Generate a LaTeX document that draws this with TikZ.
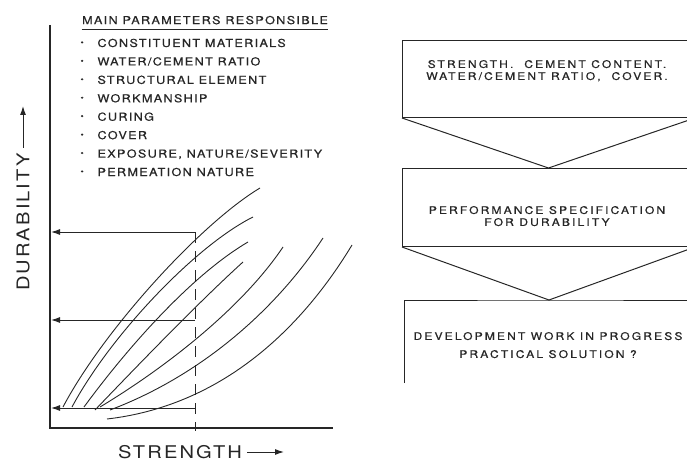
\documentclass[tikz,border=0pt]{standalone}
\usepackage{fontspec}
\newfontfamily\lettering{TeX Gyre Heros}[FakeStretch=1.15,LetterSpace=12]
\newfontfamily\boldlettering{TeX Gyre Heros}[FakeStretch=1.15,LetterSpace=12,FakeBold=0.6]
\newfontfamily\boxlettering{TeX Gyre Heros}[FakeStretch=1.15,LetterSpace=20,FakeBold=0.6]
\usepackage{tikz}
\usetikzlibrary{arrows.meta}

\begin{document}
\begin{tikzpicture}[x=1pt,y=1pt,line width=1pt,color=black!85,
  lbl/.style={inner sep=0pt,text depth=0pt},
  small/.style={lbl,font=\boldlettering\fontsize{11}{13}\selectfont},
  boxtext/.style={lbl,align=center,font=\boxlettering\fontsize{10.5}{12}\selectfont},
  axislabel/.style={lbl,font=\lettering\fontsize{17.5}{20}\selectfont},
  tip/.style={-{Latex[length=9pt,width=6pt]}},
  curve/.style={line width=0.9pt}]
\clip (0,0) rectangle (687,461);

% strength / durability chart
\draw[line width=1.2pt] (50,436) -- (50,33) -- (333,33);
\draw[dash pattern=on 11pt off 8pt] (195,229) -- (195,30);
\foreach \n/\y in {1/229,2/141,3/53} {
  \coordinate (s\n) at (195,\y);
  \coordinate (d\n) at (51,\y);
  \draw[tip] (s\n) -- (d\n);
}
\draw[curve] (63,54) .. controls (103,130) and (200,237) .. (260,273);
\draw[curve] (72,54) .. controls (110,125) and (195,215) .. (253,244);
\draw[curve] (84,54) .. controls (125,110) and (190,185) .. (248,219);
\draw[curve] (95,51) .. controls (140,98) and (200,160) .. (243,199);
\draw[curve] (100,54) .. controls (160,90) and (240,150) .. (283,214);
\draw[curve] (110,51) .. controls (200,85) and (275,150) .. (323,223);
\draw[curve] (107,42) .. controls (220,55) and (300,130) .. (352,216);

\node[axislabel] (xlabel) at (180,9) {STRENGTH};
\coordinate (xarrow) at (284,9);
\draw[tip] ([xshift=5pt]xlabel.east) -- (xarrow);
\node[axislabel,rotate=90] (ylabel) at (23,239) {DURABILITY};
\coordinate (yarrow) at (23,355);
\draw[tip] ([yshift=5pt]ylabel.east) -- (yarrow);

% parameter list
\node[small] (title) at (205,441) {MAIN PARAMETERS RESPONSIBLE};
\draw ([yshift=-5pt]title.south west) -- ([yshift=-5pt]title.south east);
\foreach \t [count=\i] in {CONSTITUENT MATERIALS, WATER/CEMENT RATIO,
    STRUCTURAL ELEMENT, WORKMANSHIP, CURING, COVER,
    {EXPOSURE, NATURE/SEVERITY}, PERMEATION NATURE}
  \node[small,anchor=base west] (item\i) at (80,{414-18.43*(\i-1)})
    {\makebox[17pt][l]{\raisebox{1.8pt}{\fontsize{8}{8}\selectfont •}}\t};

% specification boxes
\node[draw,inner sep=0pt,minimum width=292,minimum height=77,anchor=north west]
  (box1) at (402,421) {};
\node[draw,inner sep=0pt,minimum width=292,minimum height=78,anchor=north west]
  (box2) at (402,293) {};
\coordinate (box3) at (549,161);
\draw (box1.south west) -- (box2.north) -- (box1.south east);
\draw (box2.south west) -- (box3) -- (box2.south east);
\draw (404,78) -- (404,161) -- (box3) -- (700,161);

\node[boxtext] (spec1) at (547,391)
  {STRENGTH.\ \ CEMENT CONTENT.\\WATER/CEMENT RATIO,\ \ COVER.};
\node[boxtext] (spec2) at (547,245)
  {PERFORMANCE SPECIFICATION\\FOR DURABILITY};
\node[boxtext,font=\boxlettering\fontsize{10.5}{18}\selectfont] (spec3) at (548,116)
  {DEVELOPMENT WORK IN PROGRESS\\PRACTICAL SOLUTION ?};
\end{tikzpicture}
\end{document}
